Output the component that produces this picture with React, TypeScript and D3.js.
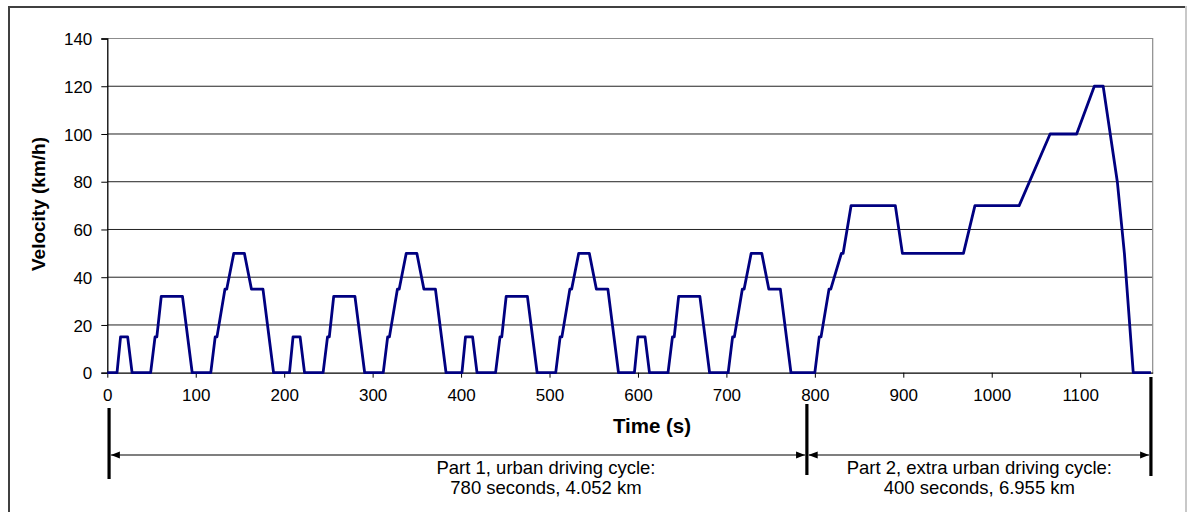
import * as d3 from "d3";
import React, { useEffect, useRef } from "react";

// NEDC speed profile, break points (s, km/h)
const urbanTime = [
  0, 11, 15, 23, 28, 49, 54, 56, 61, 85, 96, 117, 122, 124, 133, 135, 143, 155, 163, 176, 188,
  206, 210, 218, 223, 244, 249, 251, 256, 280, 291, 312, 317, 319, 328, 330, 338, 350, 358, 371, 383,
  401, 405, 413, 418, 439, 444, 446, 451, 475, 486, 507, 512, 514, 523, 525, 533, 545, 553, 566, 578,
  596, 600, 608, 613, 634, 639, 641, 646, 670, 681, 702, 707, 709, 718, 720, 728, 740, 748, 761, 773, 780,
];
const urbanSpeed = [
  0, 0, 15, 15, 0, 0, 15, 15, 32, 32, 0, 0, 15, 15, 35, 35, 50, 50, 35, 35, 0,
  0, 15, 15, 0, 0, 15, 15, 32, 32, 0, 0, 15, 15, 35, 35, 50, 50, 35, 35, 0,
  0, 15, 15, 0, 0, 15, 15, 32, 32, 0, 0, 15, 15, 35, 35, 50, 50, 35, 35, 0,
  0, 15, 15, 0, 0, 15, 15, 32, 32, 0, 0, 15, 15, 35, 35, 50, 50, 35, 35, 0, 0,
];
const extraTime = [800, 805, 807, 816, 818, 830, 832, 841, 891, 899, 968, 981, 1031, 1066, 1096, 1116, 1126, 1142, 1150, 1160, 1180];
const extraSpeed = [0, 15, 15, 35, 35, 50, 50, 70, 70, 50, 50, 70, 70, 100, 100, 120, 120, 80, 50, 0, 0];

const xTicks = [0, 100, 200, 300, 400, 500, 600, 700, 800, 900, 1000, 1100];
const yTicks = [0, 20, 40, 60, 80, 100, 120, 140];

// part boundaries and label text
const partBounds = [2, 791, 1180];
const partLabels = [
  ["Part 1, urban driving cycle:", "780 seconds, 4.052 km"],
  ["Part 2, extra urban driving cycle:", "400 seconds, 6.955 km"],
];
const partLabelAt = [496, 986];

export default function App() {
  const svgRef = useRef<SVGSVGElement>(null);

  useEffect(() => {
    const svg = d3.select(svgRef.current);
    svg.selectAll("*").remove();

    const x = d3.scaleLinear().domain([0, 1182]).range([107.3, 1152.7]);
    const y = d3.scaleLinear().domain([0, 140]).range([372.7, 38.5]);
    const font = "'Liberation Sans', Arial, sans-serif";

    svg.append("rect").attr("width", 1188).attr("height", 512).attr("fill", "#fff");

    // outer chart frame
    svg.append("line").attr("x1", 9).attr("x2", 9).attr("y1", 6).attr("y2", 512)
      .attr("stroke", "#404040").attr("stroke-width", 2);
    svg.append("line").attr("x1", 8).attr("x2", 1187).attr("y1", 7).attr("y2", 7)
      .attr("stroke", "#404040").attr("stroke-width", 2);
    svg.append("line").attr("x1", 1186).attr("x2", 1186).attr("y1", 6).attr("y2", 512)
      .attr("stroke", "#c8c8c8").attr("stroke-width", 2);

    const defs = svg.append("defs");
    defs.append("marker")
      .attr("id", "arr")
      .attr("viewBox", "0 0 10 10")
      .attr("refX", 10).attr("refY", 5)
      .attr("markerWidth", 9).attr("markerHeight", 9)
      .attr("markerUnits", "userSpaceOnUse")
      .attr("orient", "auto-start-reverse")
      .append("path").attr("d", "M0,1 L10,5 L0,9 Z").attr("fill", "#000");

    // gridlines
    svg.append("g").selectAll("line")
      .data(yTicks.filter(d => d > 0 && d < 140))
      .join("line")
      .attr("x1", x(0)).attr("x2", x(1182))
      .attr("y1", d => y(d)).attr("y2", d => y(d))
      .attr("stroke", "#222").attr("stroke-width", 1);

    // plot border (top / right)
    svg.append("path")
      .attr("d", `M${x(0)},${y(140)} H${x(1182)} V${y(0)}`)
      .attr("fill", "none").attr("stroke", "#8c8c8c").attr("stroke-width", 1.2);

    // y axis
    const gy = svg.append("g")
      .attr("transform", `translate(${x(0)},0)`)
      .call(d3.axisLeft(y).tickValues(yTicks).tickSize(6).tickPadding(9).tickFormat(d3.format("d")));
    gy.select(".domain").attr("stroke", "#000").attr("stroke-width", 1.3);
    gy.selectAll(".tick line").attr("stroke", "#000");
    gy.selectAll(".tick text").attr("font-family", font).attr("font-size", 17)
      .attr("fill", "#000").attr("dy", "0.36em");

    // x axis
    const gx = svg.append("g")
      .attr("transform", `translate(0,${y(0)})`)
      .call(d3.axisBottom(x).tickValues(xTicks).tickSize(5).tickPadding(11)
        .tickSizeOuter(0).tickFormat(d3.format("d")));
    gx.select(".domain").attr("stroke", "#000").attr("stroke-width", 1.3);
    gx.selectAll(".tick line").attr("stroke", "#000");
    gx.selectAll(".tick text").attr("font-family", font).attr("font-size", 17).attr("fill", "#000");

    // axis titles
    svg.append("text")
      .attr("x", 652).attr("y", 433)
      .attr("text-anchor", "middle")
      .attr("font-family", font).attr("font-size", 20.5).attr("font-weight", "bold")
      .text("Time (s)");
    svg.append("text")
      .attr("transform", "translate(45,204) rotate(-90)")
      .attr("text-anchor", "middle")
      .attr("font-family", font).attr("font-size", 19).attr("font-weight", "bold")
      .text("Velocity (km/h)");

    // speed trace
    const pts = urbanTime.map((t, i) => [t, urbanSpeed[i]])
      .concat(extraTime.map((t, i) => [t, extraSpeed[i]]));
    const line = d3.line<number[]>().x(d => x(d[0])).y(d => y(d[1]));
    svg.append("path")
      .datum(pts)
      .attr("fill", "none")
      .attr("stroke", "#000080")
      .attr("stroke-width", 2.8)
      .attr("stroke-linejoin", "round")
      .attr("d", line);

    // part annotations
    const markTop = [408, 404, 377];
    const markBottom = [479, 475, 476];
    partBounds.forEach((t, i) => {
      svg.append("line")
        .attr("x1", x(t)).attr("x2", x(t))
        .attr("y1", markTop[i]).attr("y2", markBottom[i])
        .attr("stroke", "#000").attr("stroke-width", 3.2);
    });
    for (let i = 0; i < 2; i++) {
      svg.append("line")
        .attr("x1", x(partBounds[i]) + 1.8).attr("x2", x(partBounds[i + 1]) - 1.8)
        .attr("y1", 455).attr("y2", 455)
        .attr("stroke", "#000").attr("stroke-width", 1.2)
        .attr("marker-start", "url(#arr)").attr("marker-end", "url(#arr)");
      partLabels[i].forEach((s, j) => {
        svg.append("text")
          .attr("x", x(partLabelAt[i])).attr("y", 474 + j * 19.5)
          .attr("text-anchor", "middle")
          .attr("font-family", font).attr("font-size", 18.5)
          .text(s);
      });
    }
  }, []);

  return (
    <svg ref={svgRef} width={1188} height={512}
      style={{ position: "absolute", left: 0, top: 0, display: "block" }} />
  );
}
